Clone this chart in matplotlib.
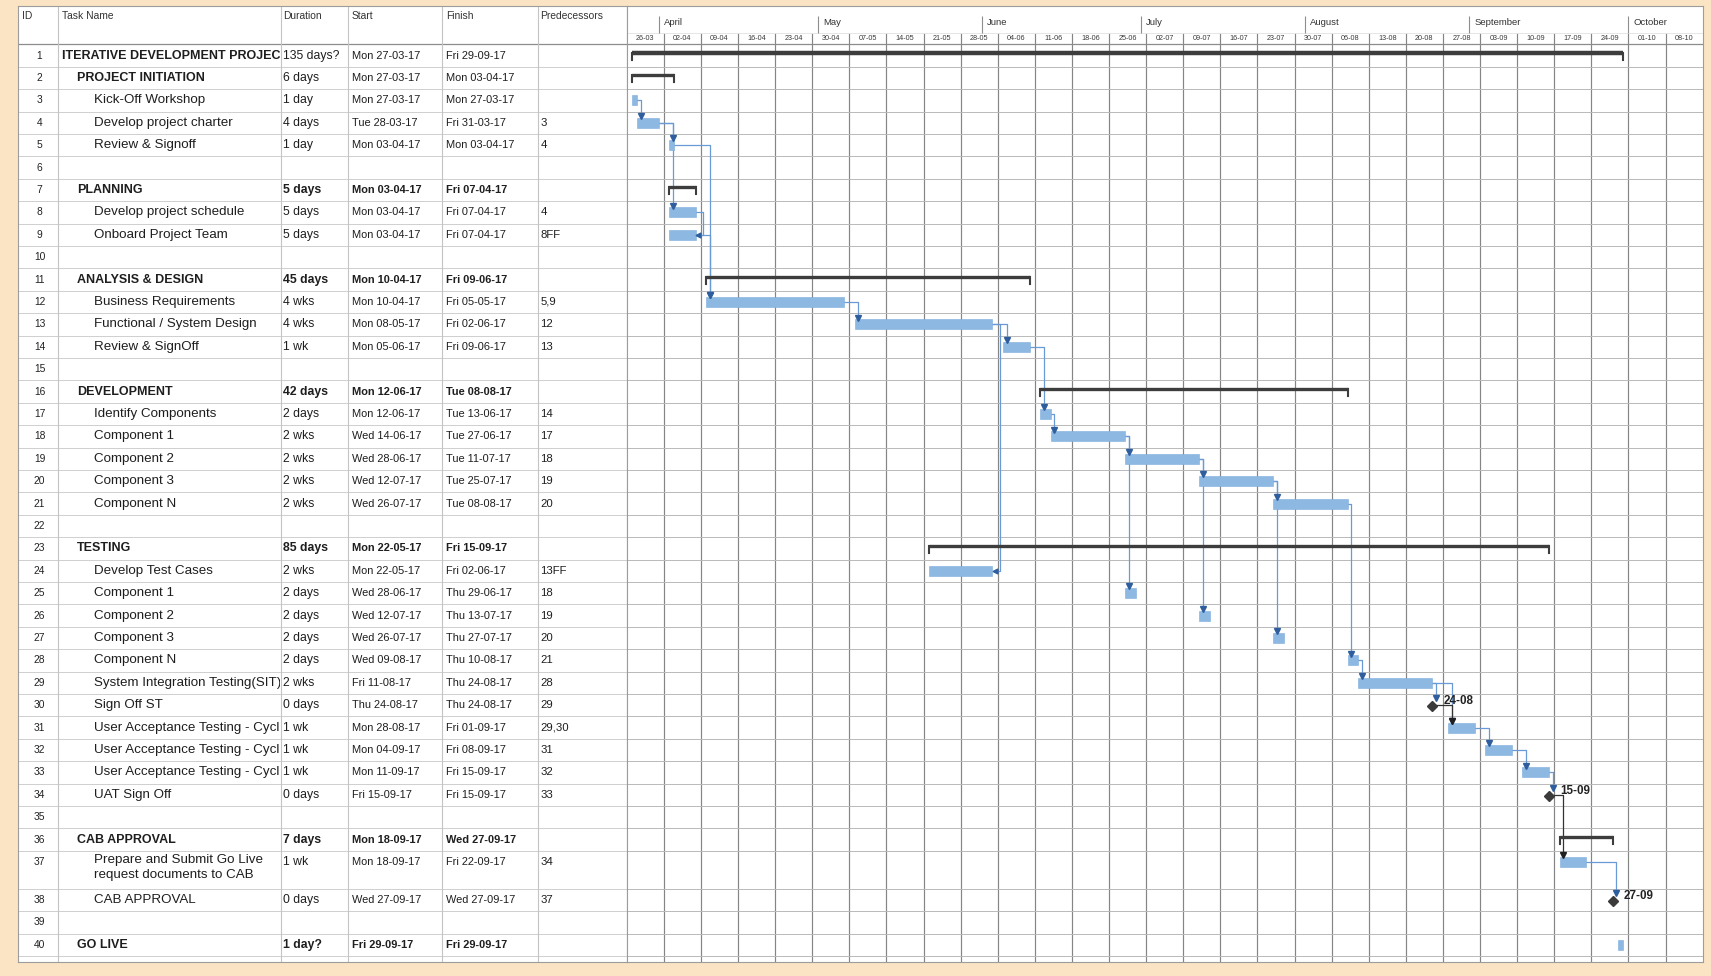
import datetime as dt
import numpy as np
import pandas as pd
import matplotlib
matplotlib.use("Agg")
import matplotlib.pyplot as plt
import matplotlib.dates as mdates
from matplotlib.transforms import Bbox, TransformedBbox

plt.rcParams['font.family'] = ['Liberation Sans', 'DejaVu Sans']

# ---------------- project data (as shown in the task sheet) ----------------
task_ids = list(range(1, 41))
task_names = [
    "ITERATIVE DEVELOPMENT PROJECT", "PROJECT INITIATION", "Kick-Off Workshop",
    "Develop project charter", "Review & Signoff", "", "PLANNING",
    "Develop project schedule", "Onboard Project Team", "", "ANALYSIS & DESIGN",
    "Business Requirements", "Functional / System Design", "Review & SignOff", "",
    "DEVELOPMENT", "Identify Components", "Component 1", "Component 2",
    "Component 3", "Component N", "", "TESTING", "Develop Test Cases",
    "Component 1", "Component 2", "Component 3", "Component N",
    "System Integration Testing(SIT)", "Sign Off ST",
    "User Acceptance Testing - Cycle 1", "User Acceptance Testing - Cycle 2",
    "User Acceptance Testing - Cycle 3", "UAT Sign Off", "", "CAB APPROVAL",
    "Prepare and Submit Go Live\nrequest documents to CAB", "CAB APPROVAL", "",
    "GO LIVE",
]
outline_levels = [0, 1, 2, 2, 2, 2, 1, 2, 2, 2, 1, 2, 2, 2, 2, 1, 2, 2, 2, 2,
                  2, 2, 1, 2, 2, 2, 2, 2, 2, 2, 2, 2, 2, 2, 2, 1, 2, 2, 2, 1]
durations = [
    "135 days?", "6 days", "1 day", "4 days", "1 day", "", "5 days", "5 days",
    "5 days", "", "45 days", "4 wks", "4 wks", "1 wk", "", "42 days", "2 days",
    "2 wks", "2 wks", "2 wks", "2 wks", "", "85 days", "2 wks", "2 days",
    "2 days", "2 days", "2 days", "2 wks", "0 days", "1 wk", "1 wk", "1 wk",
    "0 days", "", "7 days", "1 wk", "0 days", "", "1 day?",
]
starts = [
    "Mon 27-03-17", "Mon 27-03-17", "Mon 27-03-17", "Tue 28-03-17", "Mon 03-04-17",
    "", "Mon 03-04-17", "Mon 03-04-17", "Mon 03-04-17", "", "Mon 10-04-17",
    "Mon 10-04-17", "Mon 08-05-17", "Mon 05-06-17", "", "Mon 12-06-17",
    "Mon 12-06-17", "Wed 14-06-17", "Wed 28-06-17", "Wed 12-07-17", "Wed 26-07-17",
    "", "Mon 22-05-17", "Mon 22-05-17", "Wed 28-06-17", "Wed 12-07-17",
    "Wed 26-07-17", "Wed 09-08-17", "Fri 11-08-17", "Thu 24-08-17", "Mon 28-08-17",
    "Mon 04-09-17", "Mon 11-09-17", "Fri 15-09-17", "", "Mon 18-09-17",
    "Mon 18-09-17", "Wed 27-09-17", "", "Fri 29-09-17",
]
finishes = [
    "Fri 29-09-17", "Mon 03-04-17", "Mon 27-03-17", "Fri 31-03-17", "Mon 03-04-17",
    "", "Fri 07-04-17", "Fri 07-04-17", "Fri 07-04-17", "", "Fri 09-06-17",
    "Fri 05-05-17", "Fri 02-06-17", "Fri 09-06-17", "", "Tue 08-08-17",
    "Tue 13-06-17", "Tue 27-06-17", "Tue 11-07-17", "Tue 25-07-17", "Tue 08-08-17",
    "", "Fri 15-09-17", "Fri 02-06-17", "Thu 29-06-17", "Thu 13-07-17",
    "Thu 27-07-17", "Thu 10-08-17", "Thu 24-08-17", "Thu 24-08-17", "Fri 01-09-17",
    "Fri 08-09-17", "Fri 15-09-17", "Fri 15-09-17", "", "Wed 27-09-17",
    "Fri 22-09-17", "Wed 27-09-17", "", "Fri 29-09-17",
]
predecessors = [
    "", "", "", "3", "4", "", "", "4", "8FF", "", "", "5,9", "12", "13", "", "",
    "14", "17", "18", "19", "20", "", "", "13FF", "18", "19", "20", "21", "28",
    "29", "29,30", "31", "32", "33", "", "", "34", "37", "", "",
]
summary_ids = [1, 2, 7, 11, 16, 23, 36]
month_names = ["April", "May", "June", "July", "August", "September", "October"]

# ---------------- styling / layout ----------------
PEACH = "#fbe4c3"
BAR_BLUE = "#8cb8e2"
LINK_BLUE = "#6a9ad6"
ARROW_BLUE = "#2f5e9e"
SUMMARY_GREY = "#3d3d3d"
TEXT = "#1e1e1e"
BOLD_DETAIL_IDS = {7, 11, 16, 23, 36, 40}

W, H = 1711, 976
PX_TOP, PX_BOT, PX_HEAD = 6, 962, 44.4
UNIT = 22.4
TABLE_L, GANTT_L, GANTT_R = 17.5, 626.7, 1702.6
COL_LINES = [58, 281, 347.5, 442, 538]
NAME_X = [62, 77, 94]
DUR_X, START_X, FIN_X, PRED_X, ID_X = 283, 351.5, 446, 540.5, 39.5

y_lo = -(PX_HEAD - PX_TOP) / UNIT
y_hi = (PX_BOT - PX_HEAD) / UNIT

row_h = np.array([1.7 if "\n" in n else 1.0 for n in task_names])
row_top = np.concatenate([[0.0], np.cumsum(row_h)[:-1]])
yc = row_top + 0.5
row_bounds = np.append(row_top, row_top[-1] + row_h[-1])


def parse(s):
    return dt.datetime.strptime(s.split()[1], "%d-%m-%y") if s else None


start_dt = [parse(s) for s in starts]
finish_dt = [parse(s) for s in finishes]
x_start = np.array([mdates.date2num(d) if d else np.nan for d in start_dt])
x_end = np.array([mdates.date2num(d + dt.timedelta(days=1)) if d else np.nan
                  for d in finish_dt])
is_ms = [d.startswith("0 ") for d in durations]
is_sum = [i in summary_ids for i in task_ids]

fig = plt.figure(figsize=(W / 100, H / 100), dpi=100, facecolor=PEACH)
ax_h = (PX_BOT - PX_TOP) / H
ax_t = fig.add_axes([TABLE_L / W, 1 - PX_BOT / H, (GANTT_L - TABLE_L) / W, ax_h])
ax_g = fig.add_axes([GANTT_L / W, 1 - PX_BOT / H, (GANTT_R - GANTT_L) / W, ax_h])

for ax in (ax_t, ax_g):
    ax.set_ylim(y_hi, y_lo)
    ax.set_xticks([])
    ax.set_yticks([])
    ax.set_facecolor("white")
    for sp in ax.spines.values():
        sp.set_color("#9c9c9c")
        sp.set_linewidth(0.8)

# ---------------- table ----------------
ax_t.set_xlim(TABLE_L, GANTT_L)
ax_t.hlines(row_bounds[1:], TABLE_L, GANTT_L, color="#cfcfcf", lw=0.7)
ax_t.hlines(0, TABLE_L, GANTT_L, color="#8c8c8c", lw=0.9)
ax_t.vlines(COL_LINES, y_lo, y_hi, color="#c4c4c4", lw=0.8)

headers = ["ID", "Task Name", "Duration", "Start", "Finish", "Predecessors"]
head_x = [22, NAME_X[0], DUR_X, START_X, FIN_X, PRED_X]
for hx, ht in zip(head_x, headers):
    ax_t.text(hx, y_lo + 0.45, ht, fontsize=7.4, color="#333333", va="center")

name_clip = TransformedBbox(
    Bbox.from_extents((COL_LINES[0] - TABLE_L) / (GANTT_L - TABLE_L), 0,
                      (COL_LINES[1] - 1 - TABLE_L) / (GANTT_L - TABLE_L), 1),
    ax_t.transAxes)

for k, tid in enumerate(task_ids):
    y = yc[k]
    ax_t.text(ID_X, y, str(tid), fontsize=7.4, color="#222222",
              ha="center", va="center")
    name = task_names[k]
    if name:
        lvl = outline_levels[k]
        bold_name = lvl <= 1
        if "\n" in name:
            t = ax_t.text(NAME_X[lvl], y - 0.34, name, fontsize=9.6, va="top",
                          color=TEXT, linespacing=1.25)
        else:
            t = ax_t.text(NAME_X[lvl], y, name, va="center", color=TEXT,
                          fontsize=9.0 if bold_name else 9.6,
                          fontweight="bold" if bold_name else "normal")
        t.set_clip_box(name_clip)
        t.set_clip_on(True)
    wt = "bold" if tid in BOLD_DETAIL_IDS else "normal"
    ax_t.text(DUR_X, y, durations[k], fontsize=8.8, va="center", color=TEXT,
              fontweight=wt)
    ax_t.text(START_X, y, starts[k], fontsize=7.9, va="center", color=TEXT,
              fontweight=wt)
    ax_t.text(FIN_X, y, finishes[k], fontsize=7.9, va="center", color=TEXT,
              fontweight=wt)
    ax_t.text(PRED_X, y, predecessors[k], fontsize=8.2, va="center", color=TEXT)

# ---------------- gantt timescale ----------------
weeks = pd.date_range("2017-03-26", periods=29, freq="7D")
months = pd.date_range("2017-04-01", "2017-10-01", freq="MS")
x0 = mdates.date2num(weeks[0].to_pydatetime())
x1 = x0 + 29 * 7
ax_g.set_xlim(x0, x1)

wk_x = mdates.date2num(weeks.to_pydatetime())
ax_g.vlines(wk_x[1:], -0.52, y_hi, color="#858585", lw=0.85, zorder=1)
ax_g.hlines(row_bounds[1:], x0, x1, color="#b9b9b9", lw=0.7, zorder=1)
ax_g.hlines(0, x0, x1, color="#8c8c8c", lw=0.9, zorder=1)
ax_g.hlines(-0.52, x0, x1, color="#e2e2e2", lw=0.6, zorder=1)
for w, wx in zip(weeks, wk_x):
    ax_g.text(wx + 3.5, -0.25, w.strftime("%d-%m"), fontsize=5.2,
              ha="center", va="center", color="#3a3a3a")
mo_x = mdates.date2num(months.to_pydatetime())
ax_g.vlines(mo_x, -1.28, -0.52, color="#8e8e8e", lw=0.8)
for mx, mn in zip(mo_x, month_names):
    ax_g.text(mx + 1.0, -0.98, mn, fontsize=6.8, ha="left", va="center",
              color="#333333")

# ---------------- gantt marks ----------------
task_rows = [k for k in range(len(task_ids))
             if start_dt[k] and not is_ms[k] and not is_sum[k]]
ax_g.barh(yc[task_rows], x_end[task_rows] - x_start[task_rows],
          left=x_start[task_rows], height=0.44, color=BAR_BLUE,
          edgecolor="#7eaddb", lw=0.4, zorder=4)

for k in range(len(task_ids)):
    if not is_sum[k]:
        continue
    y = yc[k] - 0.12
    lw = 3.2 if outline_levels[k] == 0 else 2.4
    ax_g.plot([x_start[k], x_end[k]], [y, y], color=SUMMARY_GREY, lw=lw,
              solid_capstyle="butt", zorder=4)
    for xe in (x_start[k], x_end[k]):
        ax_g.plot([xe, xe], [y, y + 0.32], color=SUMMARY_GREY, lw=1.5, zorder=4)

for k in range(len(task_ids)):
    if not is_ms[k]:
        continue
    ax_g.plot(x_end[k], yc[k] + 0.05, marker="D", ms=5, color="#3b3b3b",
              zorder=6)
    ax_g.annotate(finish_dt[k].strftime("%d-%m"), (x_end[k], yc[k]),
                  xytext=(8, 3), textcoords="offset points", fontsize=8.4,
                  fontweight="bold", va="center", color="#222222", zorder=6)

# dependency links
STUB = 0.7
for k, pstr in enumerate(predecessors):
    if not pstr:
        continue
    for p in pstr.split(","):
        kind = "FF" if p.endswith("FF") else "FS"
        pk = int(p.replace("FF", "")) - 1
        lc, ac = (("#333333", "#1f1f1f") if is_ms[pk] else (LINK_BLUE, ARROW_BLUE))
        px = x_end[pk] + (0.6 if is_ms[pk] else 0.0)
        yp, ys = yc[pk], yc[k]
        if kind == "FF":
            xv = px + 1.4
            ax_g.plot([px, xv, xv, x_end[k] + 0.4], [yp, yp, ys, ys],
                      color=lc, lw=0.9, zorder=3)
            ax_g.plot(x_end[k] + 0.5, ys, marker="<", ms=3.5, color=ac, zorder=5)
        else:
            target = x_end[k] if is_ms[k] else x_start[k]
            xv = max(target, px) + STUB
            ytop = ys - 0.3
            ax_g.plot([px, xv, xv], [yp, yp, ytop], color=lc, lw=0.9, zorder=3)
            ax_g.plot(xv, ytop, marker="v", ms=3.8, color=ac, zorder=5)

fig.savefig("out.png", dpi=100, facecolor=PEACH)
